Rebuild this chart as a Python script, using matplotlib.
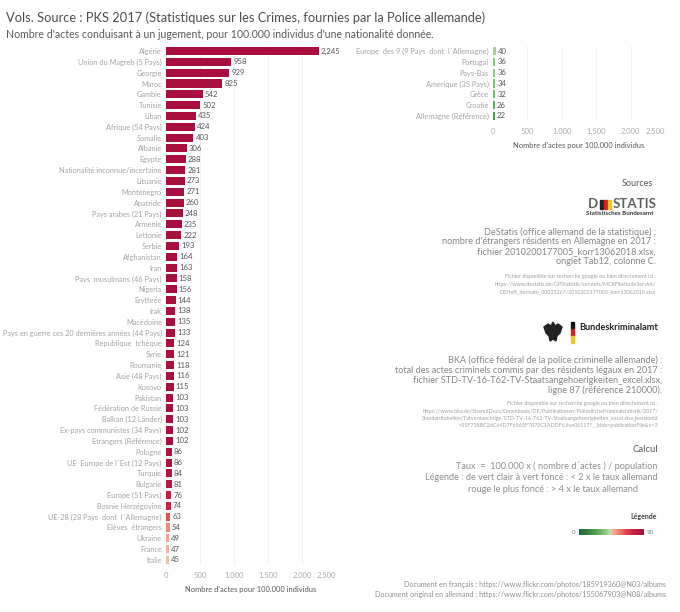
import matplotlib
matplotlib.use("Agg")
import matplotlib.pyplot as plt
from matplotlib.colors import LinearSegmentedColormap, Normalize
from matplotlib.patches import Rectangle, Polygon
import numpy as np

plt.rcParams['font.family'] = ['Lato', 'DejaVu Sans']

# ---- data ----
left_categories = [
    "Algérie", "Union du Magreb (5 Pays)", "Georgie", "Maroc", "Gambie", "Tunisie", "Liban",
    "Afrique (54 Pays)", "Somalie", "Albanie", "Egypte", "Nationalité inconnue/incertaine",
    "Lituanie", "Montenegro", "Apatride", "Pays arabes (21 Pays)", "Armenie", "Lettonie",
    "Serbie", "Afghanistan", "Iran", "Pays  musulmans (46 Pays)", "Nigeria", "Erythrée",
    "Irak", "Macédoine", "Pays en guerre ces 20 dernières années (44 Pays)",
    "Republique  tchèque", "Syrie", "Roumanie", "Asie (48 Pays)", "Kosovo", "Pakistan",
    "Fédération de Russie", "Balkan (12 Länder)", "Ex-pays communistes (34 Pays)",
    "Etrangers (Référence)", "Pologne", "UE  Europe de l´Est (12 Pays)", "Turquie",
    "Bulgarie", "Europe (51 Pays)", "Bosnie Herzégovine", "UE-28 (28 Pays  dont  l´Allemagne)",
    "Elèves  étrangers", "Ukraine", "France", "Italie",
]
left_values = [
    2245, 958, 929, 825, 542, 502, 435, 424, 403, 306, 288, 281, 273, 271, 260, 248, 235,
    222, 193, 164, 163, 158, 156, 144, 138, 135, 133, 124, 121, 118, 116, 115, 103, 103,
    103, 102, 102, 86, 86, 84, 81, 76, 74, 63, 54, 49, 47, 45,
]
right_categories = [
    "Europe  des 9 (9 Pays  dont  l´Allemagne)", "Portugal", "Pays-Bas",
    "Amerique (35 Pays)", "Grèce", "Croatie", "Allemagne (Référence)",
]
right_values = [40, 36, 36, 34, 32, 26, 22]
x_ticks = [0, 500, 1000, 1500, 2000, 2500]
x_tick_labels = ["0", "500", "1.000", "1.500", "2.000", "2.500"]
color_min, color_max = 0, 90

W, H = 680, 612
fig = plt.figure(figsize=(W / 100, H / 100), dpi=100)
fig.patch.set_facecolor("white")

cmap = LinearSegmentedColormap.from_list(
    "rg",
    [(0.0, "#1e6a35"), (0.25, "#4f9d52"), (0.40, "#8cc683"), (0.495, "#c2dfb4"),
     (0.505, "#f7b6a6"), (0.62, "#f08070"), (0.72, "#e0474c"), (0.85, "#c21d43"),
     (1.0, "#a80f3c")])
norm = Normalize(color_min, color_max)


def px_axes(x0, x1, ytop, ybot):
    return fig.add_axes([x0 / W, 1 - ybot / H, (x1 - x0) / W, (ybot - ytop) / H])


def style_bar_axes(ax, cats, vals):
    n = len(cats)
    y = np.arange(n)
    ax.barh(y, vals, height=0.74, color=[cmap(norm(v)) for v in vals], zorder=3)
    ax.set_ylim(n - 0.5, -0.5)
    ax.set_xlim(0, 2500)
    ax.set_yticks(y)
    ax.set_yticklabels(cats, fontsize=5.3, color="#a3a3a3")
    ax.tick_params(axis="y", length=0, pad=3)
    ax.set_xticks(x_ticks)
    ax.set_xticklabels(x_tick_labels, fontsize=5.5, color="#ababab")
    ax.get_xticklabels()[-1].set_ha("right")
    ax.tick_params(axis="x", length=0, pad=5)
    for s in ax.spines.values():
        s.set_visible(False)
    ax.grid(axis="x", color="#efefef", linewidth=0.6, zorder=0)
    for yi, v in zip(y, vals):
        ax.text(v + 30, yi, f"{v:,}", va="center", ha="left", fontsize=5.6, color="#555555")
    ax.set_xlabel("Nombre d'actes pour 100.000 individus", fontsize=5.4, color="#555555",
                  labelpad=5)


axL = px_axes(166, 336, 45.6, 565.4)
style_bar_axes(axL, left_categories, left_values)

axR = px_axes(493, 665, 45.6, 121.4)
style_bar_axes(axR, right_categories, right_values)

# ---- titles ----
fig.text(6 / W, 1 - 18 / H, "Vols. Source : PKS 2017 (Statistiques sur les Crimes, fournies par la Police allemande)",
         fontsize=9.3, color="#4d4d4d", va="center", ha="left")
fig.text(6 / W, 1 - 34 / H, "Nombre d'actes conduisant à un jugement, pour 100.000 individus d'une nationalité donnée.",
         fontsize=7.6, color="#5a5a5a", va="center", ha="left")


def ftext(x, y, s, **kw):
    fig.text(x / W, 1 - y / H, s, va="center", **kw)


ftext(653, 184, "Sources", ha="right", fontsize=6.5, color="#555555")

# DESTATIS logo
ftext(598, 204, "D", ha="right", fontsize=9.5, color="#5f5f5f", fontweight="bold")
for i, c in enumerate(["#222222", "#d0221f", "#f2c230"]):
    fig.patches.append(Rectangle(((600 + i * 4) / W, 1 - 208.5 / H), 2.6 / W, 9 / H,
                                 transform=fig.transFigure, color=c))
ftext(613, 204, "STATIS", ha="left", fontsize=9.5, color="#5f5f5f", fontweight="bold")
ftext(654, 213.5, "Statistisches Bundesamt", ha="right", fontsize=4.4, color="#333333",
      fontweight="bold")

destatis = ["DeStatis (office allemand de la statistique) :",
            "nombre d'étrangers résidents en Allemagne en 2017 :",
            "fichier 2010200177005_korr13062018.xlsx,",
            "onglet Tab12, colonne C."]
for i, s in enumerate(destatis):
    ftext(656, 232 + i * 10, s, ha="right", fontsize=6.6, color="#858585")
destatis_small = ["Fichier disponible sur recherche google ou bien directement ici :",
                  "https://www.destatis.de/GPStatistik/servlets/MCRFileNodeServlet/",
                  "DEHeft_derivate_00035267/2010200177005_korr13062018.xlsx"]
for i, s in enumerate(destatis_small):
    ftext(656, 277 + i * 7.5, s, ha="right", fontsize=3.9, color="#a0a0a0")

# BKA logo
ex, ey = 553, 332
eagle = [(ex - 9, ey - 5), (ex - 5, ey - 8), (ex - 2, ey - 6), (ex, ey - 10), (ex + 2, ey - 6),
         (ex + 5, ey - 8), (ex + 9, ey - 5), (ex + 7, ey + 1), (ex + 4, ey + 4), (ex + 3, ey + 9),
         (ex, ey + 7), (ex - 3, ey + 9), (ex - 4, ey + 4), (ex - 7, ey + 1)]
fig.patches.append(Polygon([(x / W, 1 - y / H) for x, y in eagle], closed=True,
                           transform=fig.transFigure, color="#222222"))
for i, c in enumerate(["#111111", "#d0221f", "#f2c230"]):
    fig.patches.append(Rectangle((571 / W, 1 - (322 + 7 * (i + 1)) / H), 3 / W, 7 / H,
                                 transform=fig.transFigure, color=c))
ftext(579, 328, "Bundeskriminalamt", ha="left", fontsize=6.6, color="#222222", fontweight="bold")

bka = ["BKA (office fédéral de la police criminelle allemande) :",
       "total des actes criminels commis par des résidents légaux en 2017 :",
       "fichier STD-TV-16-T62-TV-Staatsangehoerigkeiten_excel.xlsx,",
       "ligne 87 (référence 210000)."]
for i, s in enumerate(bka):
    ftext(662, 360 + i * 10.2, s, ha="right", fontsize=6.6, color="#858585")
bka_small = ["Fichier disponible sur recherche google ou bien directement ici :",
             "https://www.bka.de/SharedDocs/Downloads/DE/Publikationen/PolizeilicheKriminalstatistik/2017/",
             "Standardtabellen/Tatverdaechtige/STD-TV-16-T62-TV-Staatsangehoerigkeiten_excel.xlsx;jsessionid",
             "=35F738BC26C64D7F6565F7070C1ADDF6.live06117?__blob=publicationFile&v=3"]
for i, s in enumerate(bka_small):
    ftext(658, 404 + i * 7.3, s, ha="right", fontsize=3.9, color="#a0a0a0")

ftext(658, 450, "Calcul", ha="right", fontsize=6.8, color="#555555")
ftext(658, 466, "Taux  =  100.000 x ( nombre d´actes ) / population", ha="right", fontsize=6.6,
      color="#8e8e8e")
ftext(658, 478, "Légende : de vert clair à vert foncé : < 2 x le taux allemand", ha="right",
      fontsize=6.6, color="#8e8e8e")
ftext(638, 490, "rouge le plus foncé : > 4 x le taux allemand", ha="right", fontsize=6.6,
      color="#8e8e8e")

ftext(657, 516, "Légende", ha="right", fontsize=5.0, color="#444444", fontweight="bold")
cax = px_axes(579, 644, 529, 535)
grad = np.linspace(color_min, color_max, 256)[None, :]
cax.imshow(grad, aspect="auto", cmap=cmap, norm=norm, extent=(color_min, color_max, 0, 1))
cax.set_axis_off()
ftext(576, 532, "0", ha="right", fontsize=4.5, color="#777777")
ftext(647, 532, "90", ha="left", fontsize=4.5, color="#777777")

ftext(666, 585, "Document en français : https://www.flickr.com/photos/185919360@N03/albums",
      ha="right", fontsize=5.2, color="#8e8e8e")
ftext(666, 595, "Document original en allemand : https://www.flickr.com/photos/155067903@N08/albums",
      ha="right", fontsize=5.2, color="#8e8e8e")

fig.savefig("out.png", dpi=100, facecolor="white")
